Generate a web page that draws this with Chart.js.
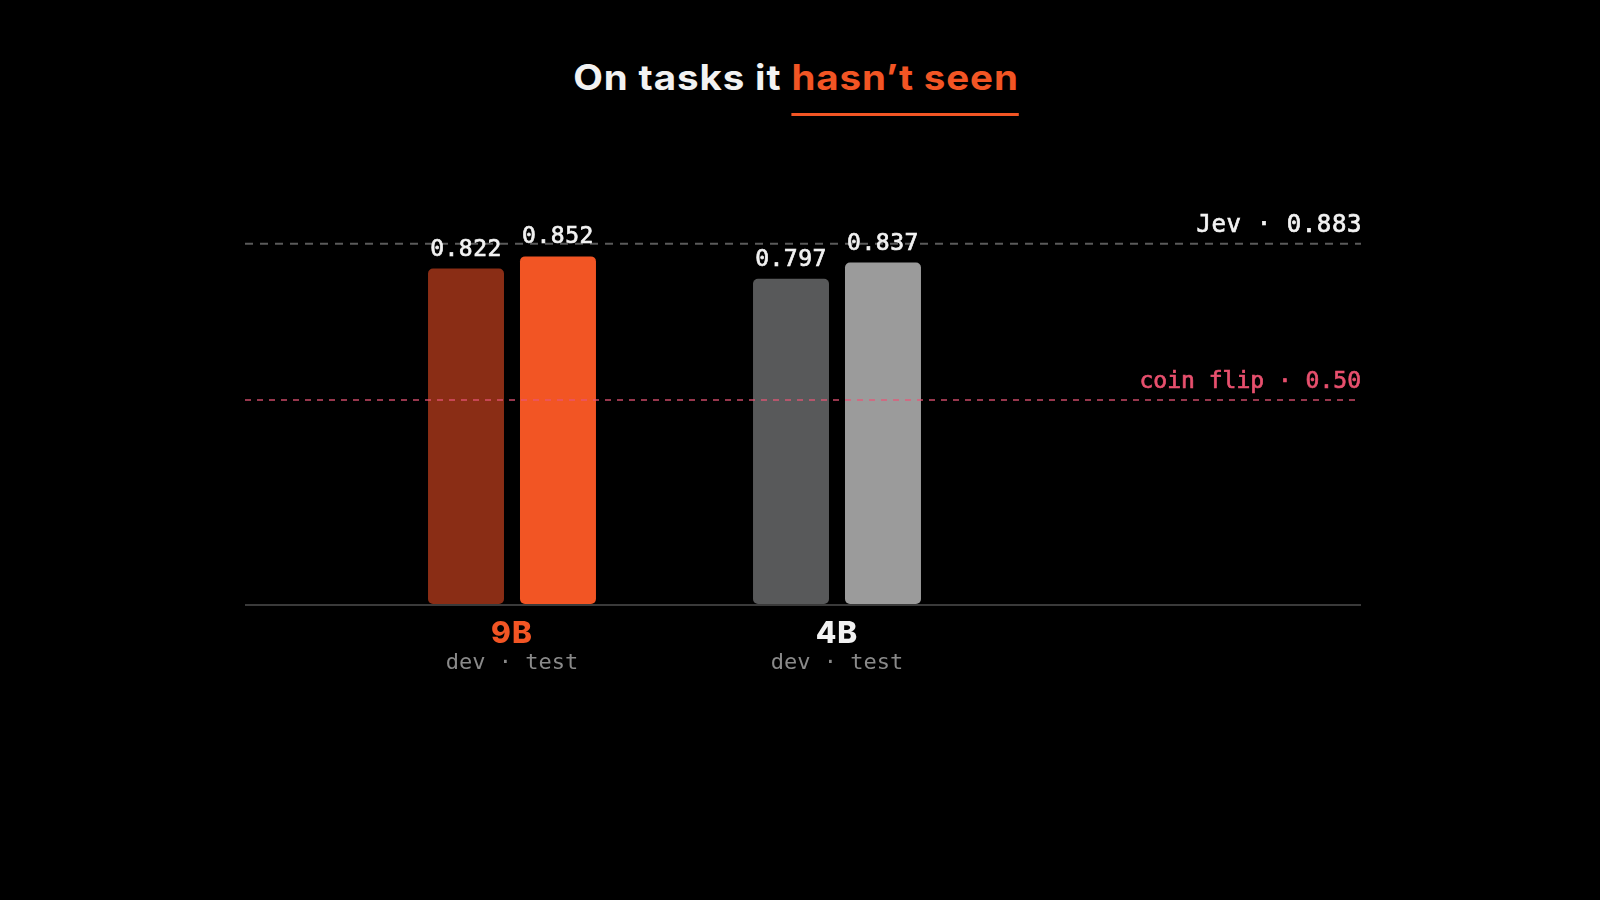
<!DOCTYPE html>
<html>
<head>
<meta charset="utf-8">
<title>On tasks it hasn't seen</title>
<script src="https://cdn.jsdelivr.net/npm/chart.js@4.4.1/dist/chart.umd.min.js"></script>
<style>
  html, body { margin: 0; padding: 0; background: #000; }
  body { width: 1600px; height: 900px; position: relative; overflow: hidden; }
  #title {
    position: absolute; left: 0; top: 60px; width: 1592px;
    text-align: center; margin: 0;
    font-family: Inter, "Noto Sans", sans-serif; font-weight: 700;
    font-size: 35px; line-height: 35px; color: #f2f2f2;
    letter-spacing: 0.8px;
    transform: scaleX(1.1);
  }
  #title span {
    color: #f25524;
    text-decoration: underline; text-decoration-color: #f25524;
    text-decoration-thickness: 3px; text-underline-offset: 23px;
  }
  canvas { position: absolute; left: 0; top: 0; }
</style>
</head>
<body>
<h1 id="title">On tasks it <span>hasn’t seen</span></h1>
<canvas id="chart" width="1600" height="900"></canvas>
<script>
document.addEventListener('DOMContentLoaded', () => {
    // data
    const categories = ['9B', '4B'];
    const subLabels = ['dev · test', 'dev · test'];
    const devScores = [0.822, 0.797];
    const testScores = [0.852, 0.837];
    const jevScore = 0.883;
    const coinFlip = 0.50;

    const labelColors = ['#f25524', '#f2f2f2'];
    const devColors = ['#8a2d15', '#58595a'];
    const testColors = ['#f25524', '#9b9b9b'];

    const mono = '"DejaVu Sans Mono", monospace';

    // fill text with a thin stroke for a medium weight
    const medium = (ctx, text, x, y, color) => {
        ctx.fillStyle = color;
        ctx.strokeStyle = color;
        ctx.lineWidth = 0.7;
        ctx.fillText(text, x, y);
        ctx.strokeText(text, x, y);
    };

    // Reference lines, axis line, value labels and category labels
    const overlay = {
        id: 'overlay',
        beforeDatasetsDraw(chart) {
            const { ctx, chartArea, scales } = chart;
            const yJev = scales.y.getPixelForValue(jevScore);
            ctx.save();
            ctx.strokeStyle = '#5a5a5a';
            ctx.lineWidth = 2;
            ctx.setLineDash([8, 7]);
            ctx.beginPath();
            ctx.moveTo(chartArea.left, yJev);
            ctx.lineTo(chartArea.right, yJev);
            ctx.stroke();
            ctx.restore();
        },
        afterDatasetsDraw(chart) {
            const { ctx, chartArea, scales } = chart;
            ctx.save();

            // coin flip line sits over the bars
            const yCoin = scales.y.getPixelForValue(coinFlip);
            ctx.strokeStyle = 'rgba(232, 84, 118, 0.65)';
            ctx.lineWidth = 2;
            ctx.setLineDash([6, 6]);
            ctx.beginPath();
            ctx.moveTo(chartArea.left, yCoin);
            ctx.lineTo(chartArea.right, yCoin);
            ctx.stroke();
            ctx.setLineDash([]);

            // baseline
            const y0 = scales.y.getPixelForValue(0);
            ctx.strokeStyle = '#3a3a3a';
            ctx.lineWidth = 2;
            ctx.beginPath();
            ctx.moveTo(chartArea.left, y0 + 1);
            ctx.lineTo(chartArea.right, y0 + 1);
            ctx.stroke();

            // reference labels
            const yJev = scales.y.getPixelForValue(jevScore);
            ctx.textAlign = 'right';
            ctx.textBaseline = 'alphabetic';
            ctx.font = '24px ' + mono;
            ctx.letterSpacing = '0.6px';
            medium(ctx, 'Jev · ' + jevScore.toFixed(3), chartArea.right + 1, yJev - 12, '#f2f2f2');
            ctx.font = '23px ' + mono;
            ctx.letterSpacing = '0px';
            medium(ctx, 'coin flip · ' + coinFlip.toFixed(2), chartArea.right, yCoin - 12, '#e8506e');

            // value labels
            ctx.textAlign = 'center';
            ctx.font = '23px ' + mono;
            ctx.letterSpacing = '0.5px';
            chart.data.datasets.forEach((ds, di) => {
                chart.getDatasetMeta(di).data.forEach((bar, i) => {
                    medium(ctx, ds.data[i].y.toFixed(3), bar.x, bar.y - 13, '#f2f2f2');
                });
            });

            // category labels
            categories.forEach((cat, i) => {
                const x = scales.x.getPixelForValue(i + 1);
                ctx.font = '800 30px Inter, sans-serif';
                ctx.letterSpacing = '1px';
                ctx.fillStyle = labelColors[i];
                ctx.fillText(cat, x, y0 + 39);
                ctx.font = '22px ' + mono;
                ctx.letterSpacing = '0px';
                ctx.fillStyle = '#8a8a8a';
                ctx.fillText(subLabels[i], x, y0 + 65);
            });
            ctx.restore();
        }
    };

    const toPoints = (values) => values.map((v, i) => ({ x: i + 1, y: v }));

    new Chart(document.getElementById('chart').getContext('2d'), {
        type: 'bar',
        data: {
            datasets: [{
                label: 'dev',
                data: toPoints(devScores),
                backgroundColor: devColors,
                borderRadius: 5,
                borderSkipped: false
            }, {
                label: 'test',
                data: toPoints(testScores),
                backgroundColor: testColors,
                borderRadius: 5,
                borderSkipped: false
            }]
        },
        options: {
            responsive: false,
            animation: false,
            devicePixelRatio: 1,
            categoryPercentage: 0.566,
            barPercentage: 0.826,
            layout: { padding: { left: 245, right: 239, top: 196, bottom: 296 } },
            plugins: {
                legend: { display: false },
                tooltip: { enabled: false }
            },
            scales: {
                x: {
                    type: 'linear',
                    display: false,
                    offset: false,
                    min: 0.1785,
                    max: 3.6123,
                    afterBuildTicks: (scale) => {
                        scale.ticks = categories.map((c, i) => ({ value: i + 1 }));
                    }
                },
                y: {
                    display: false,
                    min: 0,
                    max: 1
                }
            }
        },
        plugins: [overlay]
    });
});
</script>
</body>
</html>
